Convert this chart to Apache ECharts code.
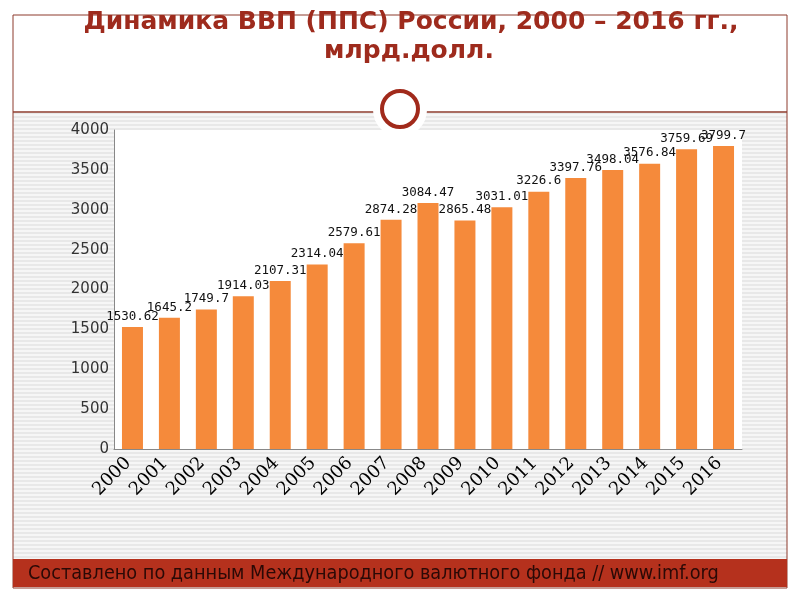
<!DOCTYPE html>
<html>
<head>
<meta charset="utf-8">
<script src="https://cdn.jsdelivr.net/npm/echarts@6/dist/echarts.min.js"></script>
<style>
html,body{margin:0;padding:0;background:#fff;}
#c{width:800px;height:600px;}
</style>
</head>
<body>
<div id="c"></div>
<script>
var years = ['2000','2001','2002','2003','2004','2005','2006','2007','2008','2009','2010','2011','2012','2013','2014','2015','2016'];
var gdp = [1530.62, 1645.2, 1749.7, 1914.03, 2107.31, 2314.04, 2579.61, 2874.28, 3084.47, 2865.48, 3031.01, 3226.6, 3397.76, 3498.04, 3576.84, 3759.69, 3799.7];
var titleLines = ['Динамика ВВП (ППС) России, 2000 – 2016 гг.,', 'млрд.долл.'];
var footerText = 'Составлено по данным Международного валютного фонда // www.imf.org';

var pc = document.createElement('canvas');
pc.width = 4; pc.height = 4;
var ctx = pc.getContext('2d');
ctx.fillStyle = '#f6f6f6'; ctx.fillRect(0,0,4,4);
ctx.fillStyle = '#e8e8e8'; ctx.fillRect(0,0,4,2);

var chart = echarts.init(document.getElementById('c'), null, {renderer:'canvas'});
var brown = '#8d3b2c';
chart.setOption({
  backgroundColor: '#ffffff',
  animation: false,
  graphic: [
    {type:'rect', z:-100, shape:{x:13, y:113, width:774, height:446}, style:{fill:{image:pc, repeat:'repeat'}}},
    {type:'rect', z:-99, shape:{x:13, y:15, width:774, height:573}, style:{fill:null, stroke:brown, lineWidth:1}},
    {type:'line', z:50, shape:{x1:13, y1:112, x2:787, y2:112}, style:{stroke:brown, lineWidth:1.5}},
    {type:'circle', z:51, shape:{cx:400, cy:110, r:27}, style:{fill:'#ffffff'}},
    {type:'circle', z:52, shape:{cx:400, cy:109, r:18}, style:{fill:'#ffffff', stroke:'#a12a1b', lineWidth:4}},
    {type:'rect', z:50, shape:{x:13, y:559, width:774, height:28}, style:{fill:'#b5311d'}},
    {type:'text', z:53, x:28, y:574, style:{text:footerText, fill:'#2a0906', font:'19.7px DejaVu Sans Condensed, DejaVu Sans', textVerticalAlign:'middle', textAlign:'left'}},
    {type:'text', z:53, x:411, y:22, style:{text:titleLines[0], fill:'#9e2b1d', font:'bold 25px DejaVu Sans', textAlign:'center', textVerticalAlign:'middle'}},
    {type:'text', z:53, x:409, y:51, style:{text:titleLines[1], fill:'#9e2b1d', font:'bold 25px DejaVu Sans', textAlign:'center', textVerticalAlign:'middle'}}
  ],
  grid: {left:114, top:130, width:628, height:319, show:true, backgroundColor:'#ffffff', borderWidth:0},
  xAxis: {
    type:'category', data: years,
    axisLine:{show:true, lineStyle:{color:'#888888', width:1}},
    axisTick:{show:false},
    axisLabel:{rotate:45, interval:0, margin:7, padding:[0,6,0,0], color:'#000', fontFamily:'DejaVu Serif', fontSize:18}
  },
  yAxis: {
    type:'value', min:0, max:4000, interval:500,
    axisLine:{show:true, lineStyle:{color:'#888888', width:1}},
    axisTick:{show:false},
    splitLine:{show:false},
    axisLabel:{margin:5, color:'#333', fontFamily:'DejaVu Sans', fontSize:15, formatter:function(v){return String(v);}}
  },
  series: [{
    type:'bar', data: gdp, barWidth:21,
    itemStyle:{color:'#f58a3b'},
    label:{show:true, position:'top', distance:4, color:'#111', fontFamily:'DejaVu Sans Mono', fontSize:12.5}
  }]
});
</script>
</body>
</html>
